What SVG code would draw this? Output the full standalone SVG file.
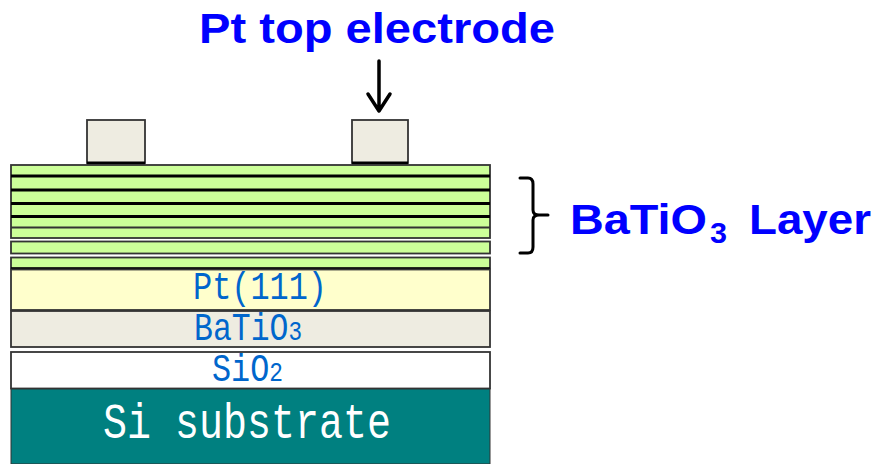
<svg xmlns="http://www.w3.org/2000/svg" width="873" height="464" viewBox="0 0 873 464">
<style>
.lay{stroke:#333;stroke-width:1.8}
.g{fill:#ccff99}
.e{fill:#eeece1}
.sep{stroke:#000;stroke-width:3;fill:none}
.m{font-family:"Liberation Mono","DejaVu Sans Mono",monospace;font-size:39px;fill:#0066cc}
.s{font-size:28px}
.w{font-size:50px;fill:#fff}
.b{font-family:"Liberation Sans",Arial,sans-serif;font-weight:bold;fill:#0000ff;font-size:43px}
.sub{font-size:29px}
.k{fill:none;stroke:#000;stroke-width:3.500;stroke-linecap:round;stroke-linejoin:round}
</style>
<rect width="873" height="464" fill="#fff"/>
<g id="electrode-left"><rect class="lay e" x="87" y="120" width="58" height="43"/><path class="sep" d="M87 163H145"/></g>
<g id="electrode-right"><rect class="lay e" x="352" y="120" width="56" height="43"/><path class="sep" d="M352 163H408"/></g>
<g id="batio3-stack">
<rect class="lay g" x="11" y="165" width="479" height="73"/>
<path class="sep" d="M11 176H490M11 190H490M11 203.500H490M11 216.500H490"/>
<path d="M11 227.500H490" stroke="#333" stroke-width="2" fill="none"/>
<rect class="lay g" x="11" y="241.500" width="479" height="12"/>
<rect class="lay g" x="11" y="257.500" width="479" height="11"/>
<path d="M11 268.500H490" stroke="#000" stroke-width="2.600"/>
</g>
<g id="pt111"><rect class="lay" fill="#ffffcc" x="11" y="269.500" width="479" height="40.500"/>
<text class="m" x="193" y="299" textLength="134" lengthAdjust="spacingAndGlyphs">Pt(111)</text></g>
<g id="batio3"><rect class="lay e" x="11" y="311" width="479" height="36"/>
<text class="m" x="194" y="340" textLength="108" lengthAdjust="spacingAndGlyphs">BaTiO<tspan class="s">3</tspan></text></g>
<g id="sio2"><rect class="lay" fill="#fff" x="11" y="352" width="479" height="36.500"/>
<text class="m" x="212" y="381" textLength="71" lengthAdjust="spacingAndGlyphs">SiO<tspan class="s">2</tspan></text></g>
<g id="si-substrate"><rect x="11" y="389" width="479" height="75" fill="#008080" stroke="#333" stroke-width="1"/>
<text class="m w" x="103" y="438" textLength="288" lengthAdjust="spacingAndGlyphs">Si substrate</text></g>
<g id="connectors">
<path class="k" d="M379 61V111M368 94L379 111L390 94"/>
<path class="k" style="stroke-width:3" d="M520 178H528Q533 178 533 184V210Q533 215 539 215H548M539 215Q533 215 533 220V247Q533 253 528 253H520"/>
</g>
<g id="label-top"><text class="b" x="199" y="43" textLength="356" lengthAdjust="spacingAndGlyphs">Pt top electrode</text></g>
<g id="label-layer"><text class="b" x="570" y="234" textLength="137" lengthAdjust="spacingAndGlyphs">BaTiO</text><text class="b sub" x="710" y="243" textLength="17" lengthAdjust="spacingAndGlyphs">3</text><text class="b" x="749" y="234" textLength="122" lengthAdjust="spacingAndGlyphs">Layer</text></g>
</svg>
